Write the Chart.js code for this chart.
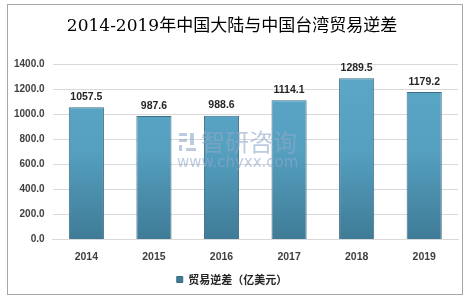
<!DOCTYPE html>
<html>
<head>
<meta charset="utf-8">
<script src="https://cdn.jsdelivr.net/npm/chart.js@4"></script>
<style>
  body { margin: 0; background: #fff; }
  #wrap { width: 474px; height: 303px; }
</style>
</head>
<body>
<div id="wrap"><canvas id="myChart" width="474" height="303"></canvas></div>
<script>
// Chart data
var years = ['2014', '2015', '2016', '2017', '2018', '2019'];
var deficit = [1057.5, 987.6, 988.6, 1114.1, 1289.5, 1179.2];
var seriesName = '贸易逆差（亿美元）';
var titleText = '2014-2019年中国大陆与中国台湾贸易逆差';

// border, value labels and watermark
var extras = {
  id: 'extras',
  beforeDraw: function(chart) {
    var ctx = chart.ctx;
    ctx.save();
    ctx.fillStyle = '#fff';
    ctx.fillRect(0, 0, chart.width, chart.height);
    ctx.strokeStyle = '#a6a6a6';
    ctx.lineWidth = 1;
    ctx.strokeRect(7.5, 4.5, 455, 290);
    ctx.restore();
  },
  afterDatasetsDraw: function(chart) {
    var ctx = chart.ctx;
    ctx.save();
    // watermark
    ctx.globalAlpha = 0.6;
    ctx.fillStyle = '#8fa9c9';
    ctx.fillRect(179, 133, 8, 3);
    ctx.fillRect(179, 139, 8, 3);
    ctx.fillRect(179, 145, 3, 6);
    ctx.fillRect(190, 133, 4, 12);
    ctx.fillRect(186, 148, 10, 3);
    ctx.font = '24px "Noto Sans CJK SC"';
    ctx.textAlign = 'left';
    ctx.textBaseline = 'middle';
    ctx.fillText('智研咨询', 201, 142);
    ctx.font = '15px "DejaVu Sans"';
    ctx.fillText('www.chyxx.com', 177, 163);
    ctx.globalAlpha = 1;
    // value labels
    var meta = chart.getDatasetMeta(0);
    ctx.fillStyle = '#262626';
    ctx.font = 'bold 10.5px "Liberation Sans"';
    ctx.textAlign = 'center';
    ctx.textBaseline = 'bottom';
    meta.data.forEach(function(bar, i) {
      ctx.fillText(deficit[i].toFixed(1), bar.x, bar.y - 5);
    });
    ctx.restore();
  }
};

var config = {
  type: 'bar',
  data: {
    labels: years,
    datasets: [{
      label: seriesName,
      data: deficit,
      backgroundColor: function(c) {
        var area = c.chart.chartArea;
        if (!area) return '#4a8fae';
        var g = c.chart.ctx.createLinearGradient(0, area.top, 0, area.bottom);
        g.addColorStop(0, '#5ca8c9');
        g.addColorStop(0.5, '#559fbf');
        g.addColorStop(1, '#3f7b96');
        return g;
      },
      borderColor: '#3e6e85',
      borderWidth: 1,
      barPercentage: 0.52,
      categoryPercentage: 1
    }]
  },
  options: {
    responsive: false,
    animation: false,
    layout: { padding: { left: 6, right: 16, top: 4, bottom: 8 } },
    plugins: {
      title: {
        display: true,
        text: titleText,
        color: '#000',
        font: { family: '"DejaVu Serif", "Noto Sans CJK SC"', size: 17, weight: 'normal' },
        padding: { top: 12, bottom: 28 }
      },
      legend: {
        position: 'bottom',
        labels: {
          color: '#262626',
          font: { family: '"Noto Sans CJK SC"', size: 11, weight: 'bold' },
          boxWidth: 6,
          boxHeight: 6,
          padding: 8
        }
      },
      tooltip: { enabled: false }
    },
    scales: {
      y: {
        min: 0,
        max: 1400,
        ticks: {
          stepSize: 200,
          color: '#404040',
          font: { family: '"Liberation Sans"', size: 10, weight: 'bold' },
          callback: function(v) { return v.toFixed(1); },
          padding: 8
        },
        grid: { color: '#d9d9d9', drawTicks: false },
        border: { display: false }
      },
      x: {
        ticks: {
          color: '#404040',
          font: { family: '"Liberation Sans"', size: 10.5, weight: 'bold' },
          padding: 3
        },
        grid: { display: false },
        border: { color: '#d9d9d9' }
      }
    }
  },
  plugins: [extras]
};

var myChart = new Chart(document.getElementById('myChart').getContext('2d'), config);
</script>
</body>
</html>
